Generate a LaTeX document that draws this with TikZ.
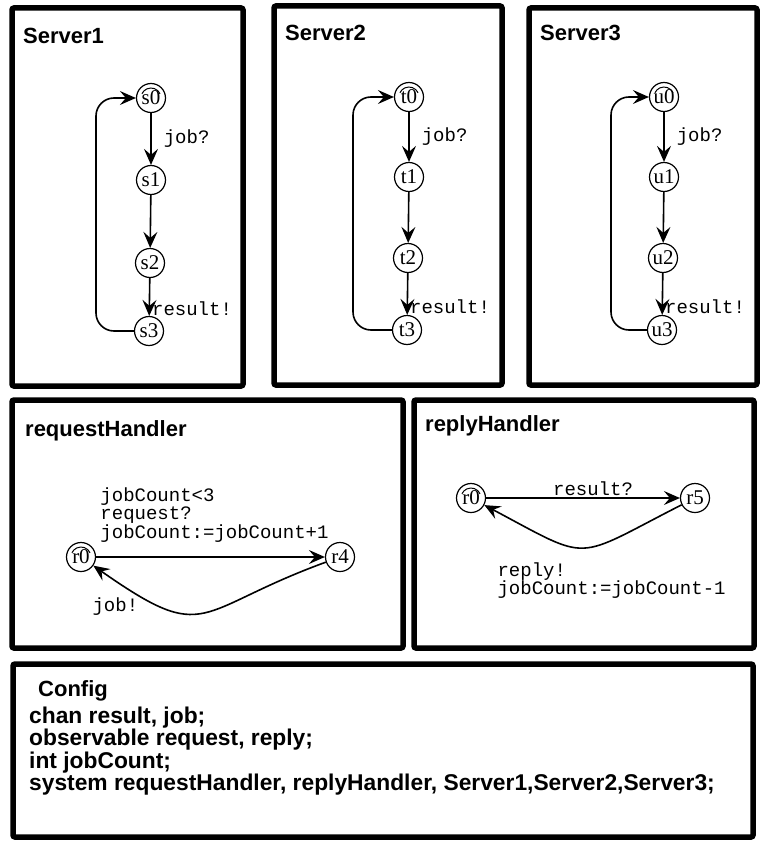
\documentclass[tikz,border=0pt]{standalone}
\usepackage{fontspec}
\setmainfont{Liberation Serif}
\setsansfont{Liberation Sans}
\setmonofont{Liberation Mono}
\usetikzlibrary{automata, arrows.meta}
\tikzset{
box/.style={line width=5.5pt, rounded corners=2pt}, % frame of one process
title/.style={anchor=base west, inner sep=0pt, font=\sffamily\bfseries\fontsize{22}{22}\selectfont},
every state/.style={draw, line width=1.2pt, minimum size=29pt, inner sep=0pt, font=\fontsize{21}{21}\selectfont},
init/.style={path picture={\draw[line width=1pt] (path picture bounding box.center) ++(25:10pt) arc[start angle=25, end angle=155, radius=10pt];}},
trans/.style={-{Stealth[length=16pt, width=14pt, inset=6pt]}, line width=1.6pt}, % big barbed heads
lbl/.style={font=\ttfamily\fontsize{19}{15}\selectfont, inner sep=2pt, align=left},
cfg/.style={anchor=north west, inner sep=0pt, align=left, font=\sffamily\bfseries\fontsize{22.8}{17.6}\selectfont},
}
\begin{document}
\begin{tikzpicture}[x=1pt, y=-1pt]
\useasboundingbox (0,0) rectangle (760,843);

% frames
\draw[box] (12,8) rectangle (243,386);
\draw[box] (274,6) rectangle (502,385);
\draw[box] (529,8) rectangle (757,385);
\draw[box] (12,400) rectangle (403,648);
\draw[box] (414,400) rectangle (754,648);
\draw[box] (13,664) rectangle (753,837);

% Server1
\node[title] (srv1) at (23,44) {Server1};
\node[state, init] (s0) at (151,98) {s0};
\node[state] (s1) at (151,180) {s1};
\node[state] (s2) at (150,263) {s2};
\node[state] (s3) at (149,331) {s3};
\coordinate (back1) at (96,98);
\draw[trans] (s0) -- node[lbl, right=10pt] {job?} (s1);
\draw[trans] (s1) -- (s2);
\draw[trans] (s2) -- node[lbl, pos=0.8, right] {result!} (s3);
\draw[trans, rounded corners=18pt] (s3) -| (back1) -- (s0);

% Server2
\node[title] (srv2) at (285,41) {Server2};
\node[state, init] (t0) at (409,97) {t0};
\node[state] (t1) at (409,177) {t1};
\node[state] (t2) at (408,258) {t2};
\node[state] (t3) at (407,330) {t3};
\coordinate (back2) at (353,97);
\draw[trans] (t0) -- node[lbl, right=10pt] {job?} (t1);
\draw[trans] (t1) -- (t2);
\draw[trans] (t2) -- node[lbl, pos=0.8, right] {result!} (t3);
\draw[trans, rounded corners=18pt] (t3) -| (back2) -- (t0);

% Server3
\node[title] (srv3) at (540,41) {Server3};
\node[state, init] (u0) at (664,97) {u0};
\node[state] (u1) at (664,177) {u1};
\node[state] (u2) at (663,258) {u2};
\node[state] (u3) at (662,330) {u3};
\coordinate (back3) at (611,97);
\draw[trans] (u0) -- node[lbl, right=10pt] {job?} (u1);
\draw[trans] (u1) -- (u2);
\draw[trans] (u2) -- node[lbl, pos=0.8, right] {result!} (u3);
\draw[trans, rounded corners=18pt] (u3) -| (back3) -- (u0);

% requestHandler
\node[title] (req) at (25,436) {requestHandler};
\node[state, init] (r0) at (81,557) {r0};
\node[state] (r4) at (340,557) {r4};
\draw[trans] (r0) -- node[lbl, above=12pt, xshift=4pt] {jobCount<3\\request?\\jobCount:=jobCount+1} (r4);
\draw[trans] (r4) to[out=-160, in=-35, looseness=1.55] node[lbl, pos=1, xshift=22pt, yshift=-41pt] {job!} (r0);

% replyHandler
\node[title] (rep) at (425,431) {replyHandler};
\node[state, init] (q0) at (471,498) {r0};
\node[state] (q5) at (695,498) {r5};
\draw[trans] (q0) -- node[lbl, above, xshift=10pt] {result?} (q5);
\draw[trans] (q5) to[out=-153, in=-28, looseness=1.6] node[lbl, pos=0.5, anchor=north, xshift=29pt, yshift=-12pt] {reply!\\jobCount:=jobCount-1} (q0);

% Config
\node[title] (cfgt) at (38,696) {Config};
\node[cfg] (decl) at (29,707) {chan result, job;\\observable request, reply;\\int jobCount;\\system requestHandler, replyHandler, Server1,Server2,Server3;};
\end{tikzpicture}
\end{document}
